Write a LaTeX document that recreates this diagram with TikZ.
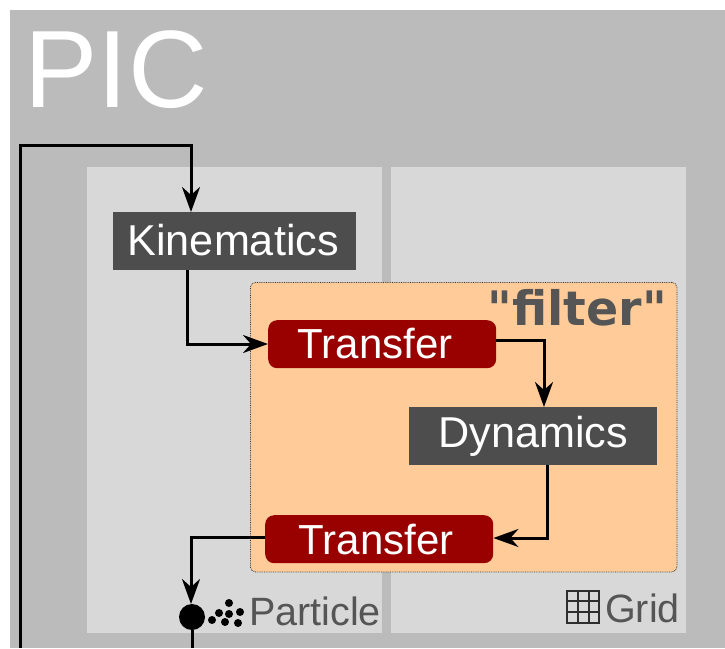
\documentclass[tikz,border=0pt]{standalone}
\usepackage{fontspec}
\setmainfont{Liberation Sans}
\newfontfamily\filterfont{DejaVu Sans}
\usetikzlibrary{arrows.meta}
\definecolor{picgray}{HTML}{BBBBBB}
\definecolor{panelgray}{HTML}{D8D8D8}
\definecolor{boxgray}{HTML}{4D4D4D}
\definecolor{labelgray}{HTML}{555555}
\definecolor{transferred}{HTML}{990000}
\definecolor{filterorange}{HTML}{FFCC99}
\tikzset{
  panel/.style={anchor=north west,fill=panelgray,inner sep=0pt,minimum width=295pt,minimum height=466pt},
  stagebox/.style={fill=boxgray,text=white,inner sep=0pt,minimum height=58pt,font=\fontsize{43.2}{44}\selectfont},
  transferbox/.style={fill=transferred,text=white,rounded corners=9pt,inner sep=0pt,minimum width=228pt,minimum height=48pt,font=\fontsize{42}{42}\selectfont},
  panellabel/.style={text=labelgray,inner sep=0pt,font=\fontsize{39.5}{40}\selectfont},
  wire/.style={line width=3pt,black},
  flow/.style={wire,-{Stealth[length=25pt,width=18pt,inset=8pt]}},
}
\begin{document}
\begin{tikzpicture}[x=1pt,y=-1pt]
    \useasboundingbox (0,0) rectangle (725,648);
    \fill[picgray] (10,10) rectangle (725,648);
    \node[anchor=base west,text=white,inner sep=0pt,font=\fontsize{110}{110}\selectfont] (pic) at (24,107) {PIC};

    % panels
    \node[panel] (particle) at (87,167) {};
    \node[panel] (grid) at (391,167) {};
    \node[anchor=north west,fill=filterorange,draw=black!80,densely dotted,line width=0.8pt,rounded corners=5pt,inner sep=0pt,minimum width=426.5pt,minimum height=289.5pt] (filter) at (250,282) {};
    \node[anchor=base east,text=labelgray,inner sep=0pt,font=\filterfont\bfseries\fontsize{47.5}{48}\selectfont] (filterlabel) at (667,325) {"filter"};

    % stages
    \node[stagebox,anchor=north west,minimum width=243pt] (kinematics) at (113,212) {\raisebox{2pt}{Kinematics}\kern3pt};
    \node[transferbox,anchor=north west] (transfer1) at (268,320) {\raisebox{2pt}{Transfer}\kern14pt};
    \node[stagebox,anchor=north west,minimum width=248pt] (dynamics) at (409,407) {Dynamics};
    \node[transferbox,anchor=north west] (transfer2) at (265,515) {Transfer\kern6pt};
    \node[circle,fill=black,inner sep=0pt,minimum size=26pt] (dot) at (192,617) {};

    % labels at the bottom of the panels
    \node[panellabel,anchor=base west] (particlelabel) at (249,625) {Particle};
    \node[panellabel,anchor=base west] (gridlabel) at (605,622) {Grid};

    % particle icon
    \foreach \x/\y in {229/603,219/613,229/614,240/612,212/620,225/622,238/623}
        \fill[black] (\x,\y) circle (4);

    % grid icon
    \draw[line width=1.2pt,boxgray!60!black] (567,591) rectangle (599,623);
    \foreach \x in {578,589}
        \draw[line width=1.2pt,boxgray!60!black] (\x,591) -- (\x,623);
    \foreach \y in {601,612}
        \draw[line width=1.2pt,boxgray!60!black] (567,\y) -- (599,\y);

    % connectors
    \coordinate (loopstart) at (20,648);
    \coordinate (loopend) at (192,648);
    \draw[flow] (loopstart) -- (20,145) -- (191,145) -- (191,212);
    \draw[flow] (187,270) -- (187,344) -- (transfer1.west |- 0,344);
    \draw[flow] (transfer1.east |- 0,340) -- (544,340) -- (544,407);
    \draw[flow] (547,465) -- (547,538) -- (transfer2.east |- 0,538);
    \draw[flow] (transfer2.west |- 0,537) -- (191,537) -- (191,604);
    \draw[wire] (dot) -- (loopend);
\end{tikzpicture}
\end{document}
